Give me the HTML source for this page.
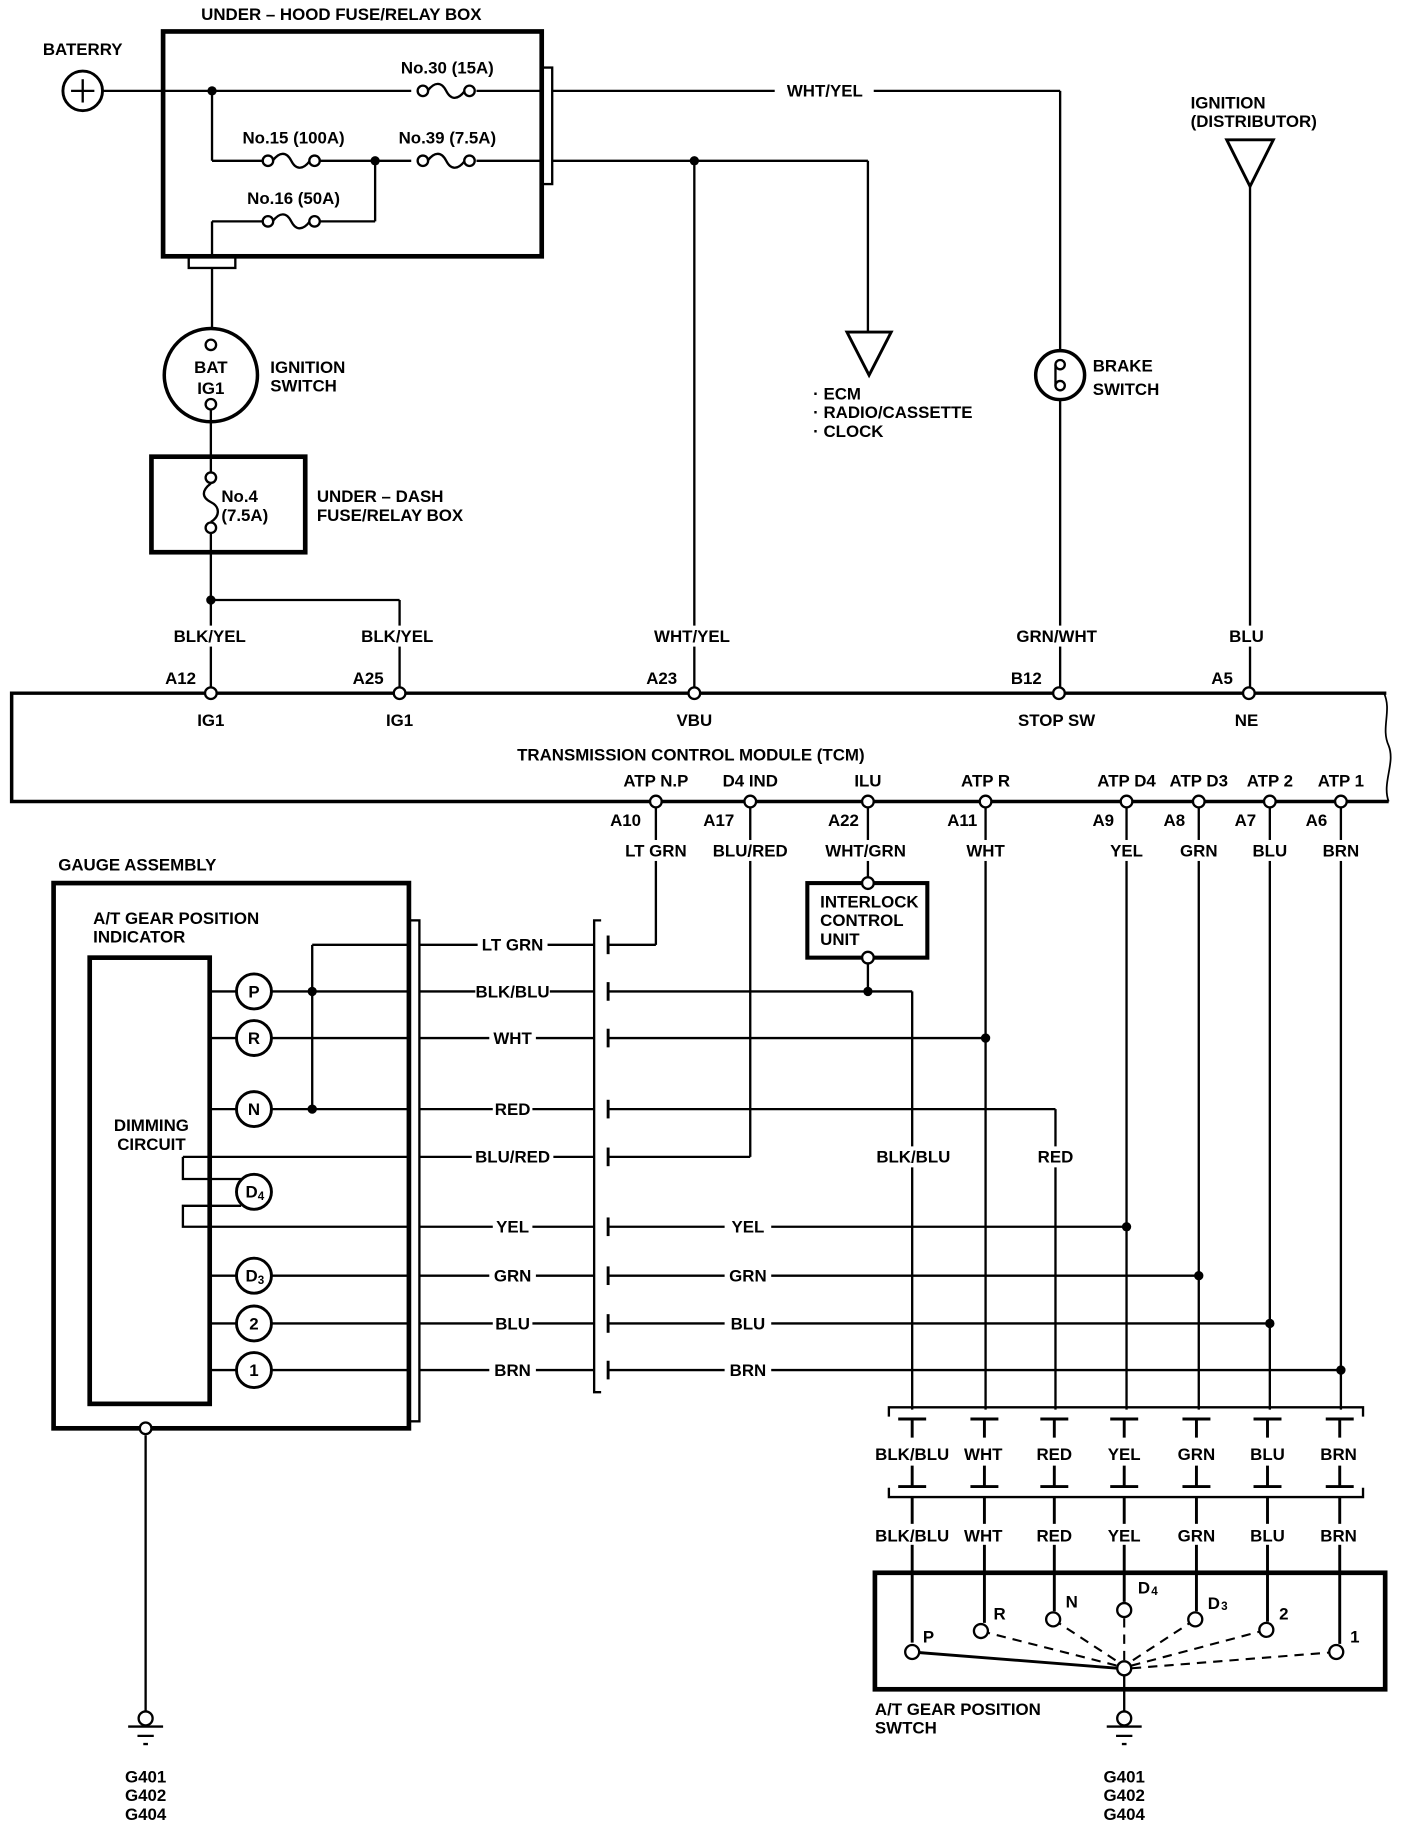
<!DOCTYPE html>
<html><head><meta charset="utf-8"><style>
html,body{margin:0;padding:0;background:#fff}
svg{display:block}
text{font-family:"Liberation Sans Narrow","Liberation Sans",sans-serif;font-size:14.5px;fill:#000;font-weight:bold}
.c{text-anchor:middle}
</style></head><body>
<svg width="1408" height="1832" viewBox="0 0 1208.6 1572.5" preserveAspectRatio="none" xmlns="http://www.w3.org/2000/svg">
<defs>
<g id="fuseH"><circle cx="0" cy="0" r="4.5" fill="#fff" stroke="#000" stroke-width="2"/><path d="M4,0 C10,-8 16,-8 20,0 C24,8 30,8 36,0" fill="none" stroke="#000" stroke-width="2"/><circle cx="40" cy="0" r="4.5" fill="#fff" stroke="#000" stroke-width="2"/></g>
</defs>
<g stroke="#000" stroke-width="2" fill="none">
<circle cx="71" cy="78" r="17" stroke-width="2.5"/>
<line x1="61" y1="78" x2="81" y2="78"/><line x1="71" y1="68" x2="71" y2="88"/>
<rect x="140" y="27" width="325" height="193" stroke-width="4"/>
<rect x="465" y="58" width="9" height="100"/>
<rect x="162" y="220" width="40" height="10"/>
<line x1="88" y1="78" x2="353" y2="78"/><line x1="409" y1="78" x2="465" y2="78"/>
<line x1="182" y1="78" x2="182" y2="138"/><line x1="182" y1="138" x2="226" y2="138"/>
<line x1="274" y1="138" x2="353" y2="138"/><line x1="409" y1="138" x2="465" y2="138"/>
<line x1="182" y1="220" x2="182" y2="190"/><line x1="182" y1="190" x2="226" y2="190"/>
<line x1="274" y1="190" x2="322" y2="190"/><line x1="322" y1="190" x2="322" y2="138"/>
<line x1="474" y1="78" x2="665" y2="78"/><line x1="750" y1="78" x2="910" y2="78"/>
<line x1="910" y1="78" x2="910" y2="301"/>
<line x1="474" y1="138" x2="745" y2="138"/><line x1="745" y1="138" x2="745" y2="285"/>
<polygon points="727,285 765,285 746,322" stroke-width="2.5"/>
<line x1="596" y1="138" x2="596" y2="590"/>
<circle cx="910" cy="322" r="21" stroke-width="3"/>
<circle cx="910" cy="313" r="4"/><circle cx="910" cy="331" r="4"/><line x1="906" y1="313" x2="906" y2="331"/>
<line x1="910" y1="343" x2="910" y2="590"/>
<polygon points="1053,120 1093,120 1073,160" stroke-width="2.5"/>
<line x1="1073" y1="160" x2="1073" y2="590"/>
<line x1="182" y1="230" x2="182" y2="282"/>
<circle cx="181" cy="322" r="40" stroke-width="3"/>
<circle cx="181" cy="296" r="4.5"/><circle cx="181" cy="347" r="4.5"/>
<line x1="181" y1="352" x2="181" y2="405"/>
<rect x="130" y="392" width="132" height="82" stroke-width="4"/>
<circle cx="181" cy="410" r="4.5"/><circle cx="181" cy="453" r="4.5"/>
<path d="M181,415 C173,421 173,427 181,431 C189,435 189,443 181,448"/>
<line x1="181" y1="458" x2="181" y2="590"/>
<line x1="181" y1="515" x2="343" y2="515"/><line x1="343" y1="515" x2="343" y2="590"/>
<path d="M1190,595 L10,595 L10,688 L1192,688" stroke-width="3"/>
<path d="M1188,595 C1195,610 1185,625 1192,640 C1198,655 1186,672 1192,688" stroke-width="1.5"/>
<line x1="563" y1="693" x2="563" y2="811"/><line x1="522" y1="811" x2="563" y2="811"/>
<line x1="644" y1="693" x2="644" y2="993"/><line x1="522" y1="993" x2="644" y2="993"/>
<line x1="745" y1="693" x2="745" y2="758"/>
<rect x="693" y="758" width="103" height="64" stroke-width="3.5"/>
<line x1="745" y1="827" x2="745" y2="851"/>
<line x1="522" y1="851" x2="783" y2="851"/><line x1="783" y1="851" x2="783" y2="1210"/>
<line x1="846" y1="693" x2="846" y2="1210"/><line x1="522" y1="891" x2="846" y2="891"/>
<line x1="522" y1="952" x2="906" y2="952"/><line x1="906" y1="952" x2="906" y2="1210"/>
<line x1="967" y1="693" x2="967" y2="1210"/><line x1="522" y1="1053" x2="967" y2="1053"/>
<line x1="1029" y1="693" x2="1029" y2="1210"/><line x1="522" y1="1095" x2="1029" y2="1095"/>
<line x1="1090" y1="693" x2="1090" y2="1210"/><line x1="522" y1="1136" x2="1090" y2="1136"/>
<line x1="1151" y1="693" x2="1151" y2="1210"/><line x1="522" y1="1176" x2="1151" y2="1176"/>
<path d="M516,790 L510,790 L510,1195 L516,1195"/>
<g stroke-width="2.5">
<line x1="522" y1="803" x2="522" y2="819"/><line x1="522" y1="843" x2="522" y2="859"/><line x1="522" y1="883" x2="522" y2="899"/><line x1="522" y1="944" x2="522" y2="960"/><line x1="522" y1="985" x2="522" y2="1001"/><line x1="522" y1="1045" x2="522" y2="1061"/><line x1="522" y1="1087" x2="522" y2="1103"/><line x1="522" y1="1128" x2="522" y2="1144"/><line x1="522" y1="1168" x2="522" y2="1184"/>
</g>
<line x1="360" y1="811" x2="510" y2="811"/><line x1="360" y1="851" x2="510" y2="851"/><line x1="360" y1="891" x2="510" y2="891"/><line x1="360" y1="952" x2="510" y2="952"/><line x1="360" y1="993" x2="510" y2="993"/><line x1="360" y1="1053" x2="510" y2="1053"/><line x1="360" y1="1095" x2="510" y2="1095"/><line x1="360" y1="1136" x2="510" y2="1136"/><line x1="360" y1="1176" x2="510" y2="1176"/>
<rect x="46" y="758" width="305" height="468" stroke-width="4"/>
<rect x="351" y="790" width="9" height="430"/>
<rect x="77" y="822" width="103" height="383" stroke-width="4"/>
<line x1="180" y1="851" x2="203" y2="851"/><line x1="180" y1="891" x2="203" y2="891"/><line x1="180" y1="952" x2="203" y2="952"/><line x1="180" y1="1095" x2="203" y2="1095"/><line x1="180" y1="1136" x2="203" y2="1136"/><line x1="180" y1="1176" x2="203" y2="1176"/>
<line x1="233" y1="851" x2="351" y2="851"/><line x1="233" y1="891" x2="351" y2="891"/><line x1="233" y1="952" x2="351" y2="952"/><line x1="233" y1="1095" x2="351" y2="1095"/><line x1="233" y1="1136" x2="351" y2="1136"/><line x1="233" y1="1176" x2="351" y2="1176"/>
<line x1="268" y1="811" x2="268" y2="952"/><line x1="268" y1="811" x2="351" y2="811"/>
<path d="M157,993 L351,993"/><path d="M157,993 L157,1012 L207,1012"/>
<path d="M207,1035 L157,1035 L157,1053 L351,1053"/>
<g stroke-width="2.5">
<circle cx="218" cy="851" r="15"/><circle cx="218" cy="891" r="15"/><circle cx="218" cy="952" r="15"/><circle cx="218" cy="1023" r="15"/><circle cx="218" cy="1095" r="15"/><circle cx="218" cy="1136" r="15"/><circle cx="218" cy="1176" r="15"/>
</g>
<line x1="125" y1="1232" x2="125" y2="1469"/>
<circle cx="125" cy="1475" r="6"/><line x1="110" y1="1482" x2="140" y2="1482"/><line x1="118" y1="1490" x2="132" y2="1490"/><line x1="123" y1="1497" x2="127" y2="1497"/>
<path d="M763,1216 L763,1208 L1170,1208 L1170,1216"/>
<path d="M763,1277 L763,1285 L1170,1285 L1170,1277"/>
</g>
<g stroke="#000" stroke-width="2.5" fill="none">
<path d="M771,1218 H795 M783,1218 V1234 M783,1258 V1276 M771,1276 H795 M783,1285 V1410"/>
<path d="M833,1218 H857 M845,1218 V1234 M845,1258 V1276 M833,1276 H857 M845,1285 V1393"/>
<path d="M893,1218 H917 M905,1218 V1234 M905,1258 V1276 M893,1276 H917 M905,1285 V1383"/>
<path d="M953,1218 H977 M965,1218 V1234 M965,1258 V1276 M953,1276 H977 M965,1285 V1375"/>
<path d="M1015,1218 H1039 M1027,1218 V1234 M1027,1258 V1276 M1015,1276 H1039 M1027,1285 V1383"/>
<path d="M1076,1218 H1100 M1088,1218 V1234 M1088,1258 V1276 M1076,1276 H1100 M1088,1285 V1392"/>
<path d="M1138,1218 H1162 M1150,1218 V1234 M1150,1258 V1276 M1138,1276 H1162 M1150,1285 V1411"/>
<rect x="751" y="1350" width="438" height="100" stroke-width="4"/>
<line x1="783" y1="1418" x2="960" y2="1432" stroke-width="2.5"/>
<g stroke-dasharray="8,6" stroke-width="1.8">
<line x1="842" y1="1400" x2="960" y2="1430"/><line x1="904" y1="1390" x2="962" y2="1428"/><line x1="965" y1="1389" x2="965" y2="1426"/><line x1="1026" y1="1390" x2="968" y2="1428"/><line x1="1087" y1="1399" x2="970" y2="1430"/><line x1="1147" y1="1418" x2="971" y2="1432"/>
</g>
<g stroke-width="2" fill="#fff">
<circle cx="783" cy="1418" r="6"/><circle cx="842" cy="1400" r="6"/><circle cx="904" cy="1390" r="6"/><circle cx="965" cy="1382" r="6"/><circle cx="1026" cy="1390" r="6"/><circle cx="1087" cy="1399" r="6"/><circle cx="1147" cy="1418" r="6"/><circle cx="965" cy="1432" r="6"/>
</g>
<line x1="965" y1="1438" x2="965" y2="1469" stroke-width="2"/>
<g stroke-width="2"><circle cx="965" cy="1475" r="6"/><line x1="950" y1="1482" x2="980" y2="1482"/><line x1="958" y1="1490" x2="972" y2="1490"/><line x1="963" y1="1497" x2="967" y2="1497"/></g>
</g>
<use href="#fuseH" x="363" y="78"/><use href="#fuseH" x="230" y="138"/><use href="#fuseH" x="363" y="138"/><use href="#fuseH" x="230" y="190"/>
<g fill="#000">
<circle cx="182" cy="78" r="4"/><circle cx="322" cy="138" r="4"/><circle cx="596" cy="138" r="4"/><circle cx="181" cy="515" r="4"/>
<circle cx="268" cy="851" r="4"/><circle cx="268" cy="952" r="4"/><circle cx="745" cy="851" r="4"/><circle cx="846" cy="891" r="4"/><circle cx="967" cy="1053" r="4"/><circle cx="1029" cy="1095" r="4"/><circle cx="1090" cy="1136" r="4"/><circle cx="1151" cy="1176" r="4"/>
</g>
<g fill="#fff" stroke="#000" stroke-width="2">
<circle cx="181" cy="595" r="5"/><circle cx="343" cy="595" r="5"/><circle cx="596" cy="595" r="5"/><circle cx="909" cy="595" r="5"/><circle cx="1072" cy="595" r="5"/>
<circle cx="563" cy="688" r="5"/><circle cx="644" cy="688" r="5"/><circle cx="745" cy="688" r="5"/><circle cx="846" cy="688" r="5"/><circle cx="967" cy="688" r="5"/><circle cx="1029" cy="688" r="5"/><circle cx="1090" cy="688" r="5"/><circle cx="1151" cy="688" r="5"/>
<circle cx="745" cy="758" r="5"/><circle cx="745" cy="822" r="5"/><circle cx="125" cy="1226" r="5"/>
</g>
<g fill="#fff">
<rect x="410" y="802" width="60" height="18"/><rect x="408" y="842" width="64" height="18"/><rect x="420" y="882" width="40" height="18"/><rect x="423" y="943" width="34" height="18"/><rect x="405" y="984" width="70" height="18"/><rect x="423" y="1044" width="34" height="18"/><rect x="420" y="1086" width="40" height="18"/><rect x="423" y="1127" width="34" height="18"/><rect x="420" y="1167" width="40" height="18"/>
<rect x="622" y="1044" width="40" height="18"/><rect x="622" y="1086" width="40" height="18"/><rect x="622" y="1127" width="40" height="18"/><rect x="622" y="1167" width="40" height="18"/>
<rect x="752" y="984" width="64" height="18"/><rect x="888" y="984" width="36" height="18"/>
<rect x="756" y="1238" width="420" height="18"/><rect x="756" y="1308" width="420" height="18"/>
<rect x="145" y="537" width="70" height="18"/><rect x="306" y="537" width="70" height="18"/><rect x="559" y="537" width="70" height="18"/><rect x="867" y="537" width="80" height="18"/><rect x="1052" y="537" width="36" height="18"/>
<rect x="530" y="721" width="66" height="18"/><rect x="608" y="721" width="72" height="18"/><rect x="704" y="721" width="80" height="18"/><rect x="828" y="721" width="36" height="18"/><rect x="950" y="721" width="34" height="18"/><rect x="1010" y="721" width="38" height="18"/><rect x="1072" y="721" width="36" height="18"/><rect x="1133" y="721" width="36" height="18"/>
</g>
<text x="293" y="17" class="c">UNDER – HOOD FUSE/RELAY BOX</text>
<text x="71" y="47" class="c">BATERRY</text>
<text x="384" y="63" class="c">No.30 (15A)</text>
<text x="252" y="123" class="c">No.15 (100A)</text>
<text x="384" y="123" class="c">No.39 (7.5A)</text>
<text x="252" y="175" class="c">No.16 (50A)</text>
<text x="708" y="83" class="c">WHT/YEL</text>
<text x="1022" y="93">IGNITION</text><text x="1022" y="109">(DISTRIBUTOR)</text>
<text x="698" y="343">· ECM</text><text x="698" y="359">· RADIO/CASSETTE</text><text x="698" y="375">· CLOCK</text>
<text x="938" y="319">BRAKE</text><text x="938" y="339">SWITCH</text>
<text x="181" y="320" class="c">BAT</text><text x="181" y="338" class="c">IG1</text>
<text x="232" y="320">IGNITION</text><text x="232" y="336">SWITCH</text>
<text x="190" y="431">No.4</text><text x="190" y="447">(7.5A)</text>
<text x="272" y="431">UNDER – DASH</text><text x="272" y="447">FUSE/RELAY BOX</text>
<text x="180" y="551" class="c">BLK/YEL</text><text x="341" y="551" class="c">BLK/YEL</text><text x="594" y="551" class="c">WHT/YEL</text><text x="907" y="551" class="c">GRN/WHT</text><text x="1070" y="551" class="c">BLU</text>
<text x="155" y="587" class="c">A12</text><text x="316" y="587" class="c">A25</text><text x="568" y="587" class="c">A23</text><text x="881" y="587" class="c">B12</text><text x="1049" y="587" class="c">A5</text>
<text x="181" y="623" class="c">IG1</text><text x="343" y="623" class="c">IG1</text><text x="596" y="623" class="c">VBU</text><text x="907" y="623" class="c">STOP SW</text><text x="1070" y="623" class="c">NE</text>
<text x="593" y="653" class="c">TRANSMISSION CONTROL MODULE (TCM)</text>
<text x="563" y="675" class="c">ATP N.P</text><text x="644" y="675" class="c">D4 IND</text><text x="745" y="675" class="c">ILU</text><text x="846" y="675" class="c">ATP R</text><text x="967" y="675" class="c">ATP D4</text><text x="1029" y="675" class="c">ATP D3</text><text x="1090" y="675" class="c">ATP 2</text><text x="1151" y="675" class="c">ATP 1</text>
<text x="537" y="709" class="c">A10</text><text x="617" y="709" class="c">A17</text><text x="724" y="709" class="c">A22</text><text x="826" y="709" class="c">A11</text><text x="947" y="709" class="c">A9</text><text x="1008" y="709" class="c">A8</text><text x="1069" y="709" class="c">A7</text><text x="1130" y="709" class="c">A6</text>
<text x="563" y="735" class="c">LT GRN</text><text x="644" y="735" class="c">BLU/RED</text><text x="743" y="735" class="c">WHT/GRN</text><text x="846" y="735" class="c">WHT</text><text x="967" y="735" class="c">YEL</text><text x="1029" y="735" class="c">GRN</text><text x="1090" y="735" class="c">BLU</text><text x="1151" y="735" class="c">BRN</text>
<text x="704" y="779">INTERLOCK</text><text x="704" y="795">CONTROL</text><text x="704" y="811">UNIT</text>
<text x="50" y="747">GAUGE ASSEMBLY</text>
<text x="80" y="793">A/T GEAR POSITION</text><text x="80" y="809">INDICATOR</text>
<text x="130" y="971" class="c">DIMMING</text><text x="130" y="987" class="c">CIRCUIT</text>
<text x="218" y="856" class="c">P</text><text x="218" y="896" class="c">R</text><text x="218" y="957" class="c">N</text><text x="216" y="1028" class="c">D</text><text x="224" y="1030" class="c" style="font-size:10px">4</text><text x="216" y="1100" class="c">D</text><text x="224" y="1102" class="c" style="font-size:10px">3</text><text x="218" y="1141" class="c">2</text><text x="218" y="1181" class="c">1</text>
<text x="440" y="816" class="c">LT GRN</text><text x="440" y="856" class="c">BLK/BLU</text><text x="440" y="896" class="c">WHT</text><text x="440" y="957" class="c">RED</text><text x="440" y="998" class="c">BLU/RED</text><text x="440" y="1058" class="c">YEL</text><text x="440" y="1100" class="c">GRN</text><text x="440" y="1141" class="c">BLU</text><text x="440" y="1181" class="c">BRN</text>
<text x="642" y="1058" class="c">YEL</text><text x="642" y="1100" class="c">GRN</text><text x="642" y="1141" class="c">BLU</text><text x="642" y="1181" class="c">BRN</text>
<text x="784" y="998" class="c">BLK/BLU</text><text x="906" y="998" class="c">RED</text>
<text x="783" y="1253" class="c">BLK/BLU</text><text x="844" y="1253" class="c">WHT</text><text x="905" y="1253" class="c">RED</text><text x="965" y="1253" class="c">YEL</text><text x="1027" y="1253" class="c">GRN</text><text x="1088" y="1253" class="c">BLU</text><text x="1149" y="1253" class="c">BRN</text>
<text x="783" y="1323" class="c">BLK/BLU</text><text x="844" y="1323" class="c">WHT</text><text x="905" y="1323" class="c">RED</text><text x="965" y="1323" class="c">YEL</text><text x="1027" y="1323" class="c">GRN</text><text x="1088" y="1323" class="c">BLU</text><text x="1149" y="1323" class="c">BRN</text>
<text x="797" y="1410" class="c">P</text><text x="858" y="1390" class="c">R</text><text x="920" y="1380" class="c">N</text><text x="982" y="1368" class="c">D</text><text x="991" y="1369" class="c" style="font-size:10px">4</text><text x="1042" y="1381" class="c">D</text><text x="1051" y="1382" class="c" style="font-size:10px">3</text><text x="1102" y="1390" class="c">2</text><text x="1163" y="1410" class="c">1</text>
<text x="751" y="1472">A/T GEAR POSITION</text><text x="751" y="1488">SWTCH</text>
<text x="125" y="1530" class="c">G401</text><text x="125" y="1546" class="c">G402</text><text x="125" y="1562" class="c">G404</text>
<text x="965" y="1530" class="c">G401</text><text x="965" y="1546" class="c">G402</text><text x="965" y="1562" class="c">G404</text>
</svg>
</body></html>
